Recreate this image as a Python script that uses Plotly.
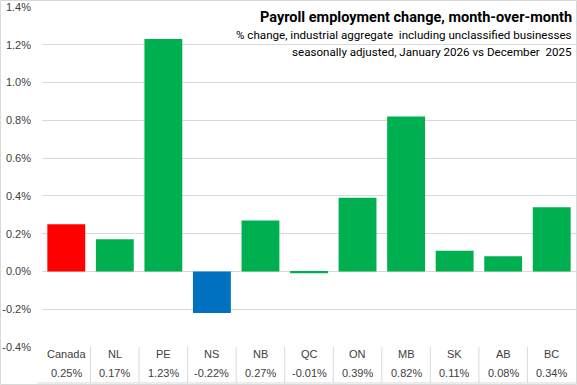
import plotly.graph_objects as go

categories = ["Canada", "NL", "PE", "NS", "NB", "QC", "ON", "MB", "SK", "AB", "BC"]
values = [0.25, 0.17, 1.23, -0.22, 0.27, -0.01, 0.39, 0.82, 0.11, 0.08, 0.34]
bar_colors = ["#FF0000", "#00B050", "#00B050", "#0070C0", "#00B050", "#00B050",
              "#00B050", "#00B050", "#00B050", "#00B050", "#00B050"]
y_ticks = [-0.4, -0.2, 0.0, 0.2, 0.4, 0.6, 0.8, 1.0, 1.2, 1.4]
y_ticktext = [f"{v:.1f}%" for v in y_ticks]

title = "Payroll employment change, month-over-month"
sub1 = "% change, industrial aggregate  including unclassified businesses"
sub2 = "seasonally adjusted, January 2026 vs December  2025"

W, H = 577, 385
ML, MR, MT, MB = 42, 1, 7, 38
pw, ph = W - ML - MR, H - MT - MB

def px_x(x):
    return (x - ML) / pw

def px_y(y):
    return (H - MB - y) / ph

fig = go.Figure()
fig.add_trace(go.Bar(
    x=list(range(len(categories))), y=values,
    marker=dict(color=bar_colors, line=dict(width=0)),
    width=0.78, hoverinfo="skip",
))

tick_font = dict(family="Liberation Sans, Arial, sans-serif", size=11, color="#404040")

annotations = []
for i, (c, v) in enumerate(zip(categories, values)):
    annotations.append(dict(x=i, y=px_y(354), xref="x", yref="paper", text=c,
                            showarrow=False, font=tick_font, yanchor="middle"))
    annotations.append(dict(x=i, y=px_y(373), xref="x", yref="paper", text=f"{v:.2f}%",
                            showarrow=False, font=tick_font, yanchor="middle"))

annotations.append(dict(x=px_x(574), y=px_y(17), xref="paper", yref="paper", text=f"<b>{title}</b>",
                        showarrow=False, xanchor="right", yanchor="middle",
                        font=dict(family="Roboto, sans-serif", size=14.5, color="#000000")))
annotations.append(dict(x=px_x(574), y=px_y(35), xref="paper", yref="paper", text=sub1,
                        showarrow=False, xanchor="right", yanchor="middle",
                        font=dict(family="Roboto, sans-serif", size=11.6, color="#000000")))
annotations.append(dict(x=px_x(574), y=px_y(52), xref="paper", yref="paper", text=sub2,
                        showarrow=False, xanchor="right", yanchor="middle",
                        font=dict(family="Roboto, sans-serif", size=11.6, color="#000000")))

grid_color = "#D9D9D9"
shapes = []
for i in range(len(categories) - 1):
    shapes.append(dict(type="line", xref="x", yref="paper", x0=i + 0.5, x1=i + 0.5,
                       y0=px_y(383), y1=0, line=dict(color=grid_color, width=1)))
shapes.append(dict(type="line", xref="paper", yref="paper", x0=px_x(38), x1=1,
                   y0=px_y(383), y1=px_y(383), line=dict(color=grid_color, width=1)))
# figure border
shapes.append(dict(type="rect", xref="paper", yref="paper", x0=px_x(0.5), x1=px_x(576.5),
                   y0=px_y(384.5), y1=px_y(0.5), line=dict(color=grid_color, width=1)))

fig.update_layout(
    width=W, height=H,
    margin=dict(l=ML, r=MR, t=MT, b=MB),
    paper_bgcolor="white", plot_bgcolor="white",
    showlegend=False,
    bargap=0.22,
    xaxis=dict(range=[-0.5, len(categories) - 0.5], showticklabels=False, showgrid=False,
               zeroline=False, showline=False, fixedrange=True),
    yaxis=dict(range=[y_ticks[0], y_ticks[-1]], tickvals=y_ticks, ticktext=y_ticktext,
               showgrid=True, gridcolor=grid_color, gridwidth=1, zeroline=False,
               showline=False, tickfont=tick_font, ticks="", ticklabelstandoff=10,
               fixedrange=True),
    annotations=annotations,
    shapes=shapes,
)

fig.write_html("out.html", config={"displayModeBar": False},
               post_script="document.body.style.margin='0';document.body.style.overflow='hidden';")
